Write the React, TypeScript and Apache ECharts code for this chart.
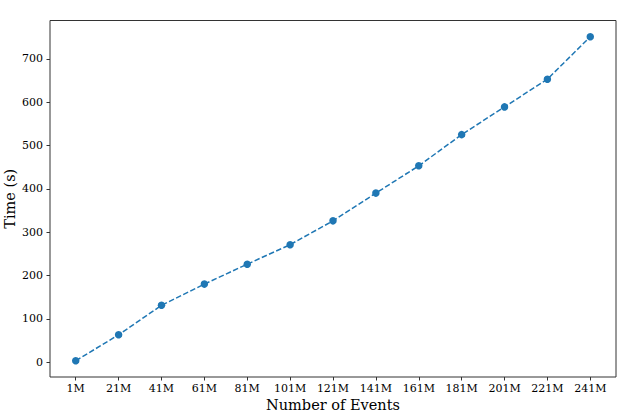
import React, { useEffect, useRef } from "react";
import * as echarts from "echarts";

const categories = ["1M", "21M", "41M", "61M", "81M", "101M", "121M", "141M", "161M", "181M", "201M", "221M", "241M"];
const times = [3, 63, 131, 180, 226, 271, 326, 390, 453, 525, 589, 653, 751];
const yTicks = [0, 100, 200, 300, 400, 500, 600, 700];

export default function App() {
  const ref = useRef<HTMLDivElement>(null);
  useEffect(() => {
    if (!ref.current) return;
    const chart = echarts.init(ref.current, null, { renderer: "svg" });
    const xIdx = categories.map((_, i) => i);
    const n = categories.length - 1;
    const xPad = n * 0.05;
    const yMinD = Math.min(...times);
    const yMaxD = Math.max(...times);
    const yPad = (yMaxD - yMinD) * 0.05;
    const font = "DejaVu Serif";
    chart.setOption({
      animation: false,
      backgroundColor: "#ffffff",
      grid: {
        left: 50,
        top: 20.5,
        right: 7,
        bottom: 38,
        containLabel: false,
        outerBoundsMode: "none",
        show: true,
        borderColor: "#333333",
        borderWidth: 1,
        backgroundColor: "transparent",
      },
      xAxis: {
        type: "value",
        min: -xPad,
        max: n + xPad,
        name: "Number of Events",
        nameLocation: "middle",
        nameGap: 20,
        nameMoveOverlap: false,
        nameTextStyle: { fontFamily: font, fontSize: 14.5, color: "#000" },
        axisLine: { show: false, onZero: false },
        splitLine: { show: false },
        axisTick: {
          show: true,
          length: 3.5,
          customValues: xIdx,
          lineStyle: { color: "#333333", width: 1 },
        },
        axisLabel: {
          customValues: xIdx,
          margin: 6,
          fontFamily: font,
          fontSize: 11,
          color: "#000",
          formatter: (v: number) => categories[Math.round(v)] ?? "",
        },
      },
      yAxis: {
        type: "value",
        min: yMinD - yPad,
        max: yMaxD + yPad,
        name: "Time (s)",
        nameLocation: "middle",
        nameGap: 33,
        nameMoveOverlap: false,
        nameTextStyle: { fontFamily: font, fontSize: 14.5, color: "#000" },
        axisLine: { show: false, onZero: false },
        splitLine: { show: false },
        axisTick: {
          show: true,
          length: 3.5,
          customValues: yTicks,
          lineStyle: { color: "#333333", width: 1 },
        },
        axisLabel: {
          customValues: yTicks,
          margin: 7,
          fontFamily: font,
          fontSize: 11,
          color: "#000",
        },
      },
      series: [
        {
          type: "line",
          data: xIdx.map((i) => [i, times[i]]),
          symbol: "circle",
          symbolSize: 7.5,
          itemStyle: { color: "#1f77b4" },
          lineStyle: { color: "#1f77b4", width: 1.5, type: [5.5, 2.4] },
        },
      ],
    });
    return () => chart.dispose();
  }, []);
  return <div ref={ref} style={{ position: "fixed", left: 0, top: 0, width: 623, height: 415 }} />;
}
